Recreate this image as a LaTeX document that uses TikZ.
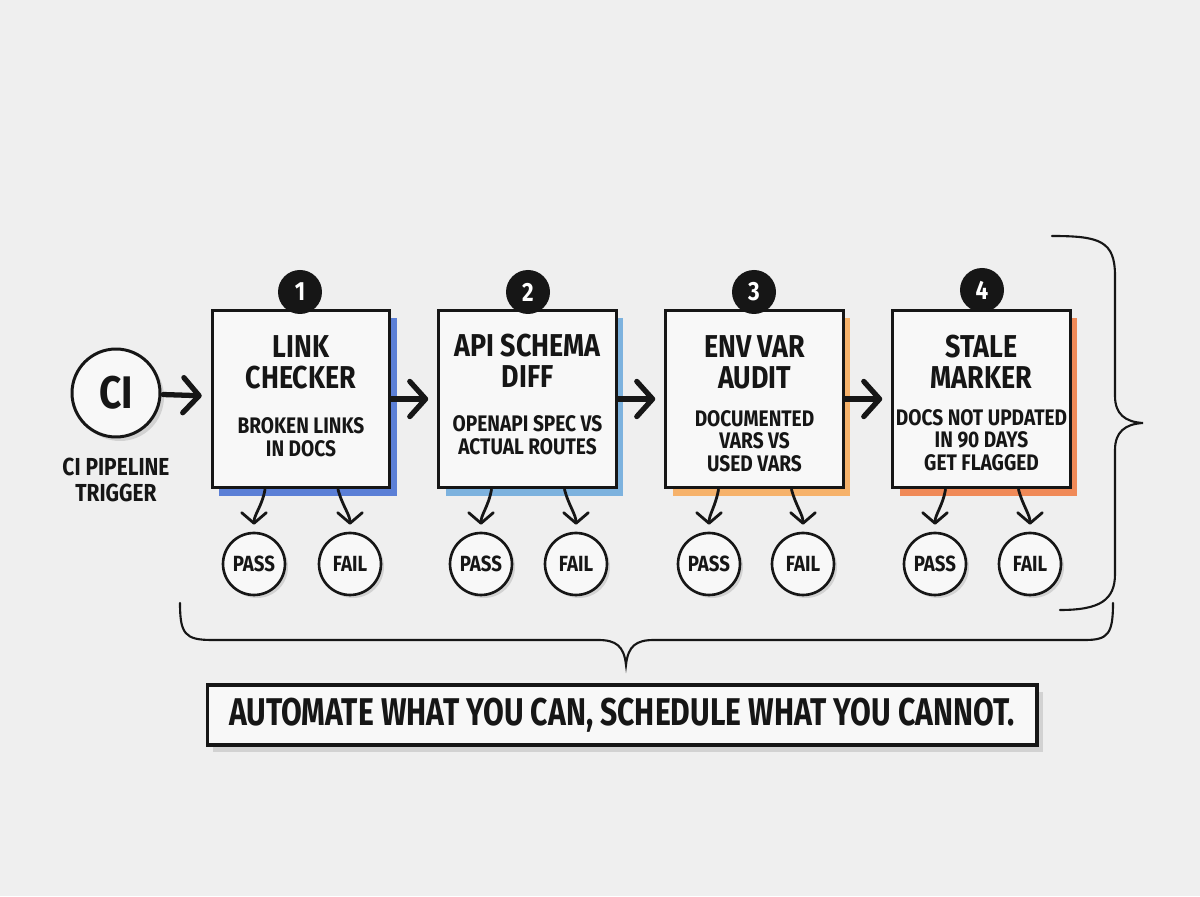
\documentclass[tikz,border=0pt]{standalone}
\usepackage{fontspec}
\setmainfont{Fira Sans}[FakeStretch=0.85]
\newfontfamily\bannerfont{Fira Sans}[FakeStretch=0.78]
\usetikzlibrary{arrows.meta,shadows}
\definecolor{bg}{HTML}{EFEFEF}
\definecolor{paper}{HTML}{F8F8F8}
\definecolor{ink}{HTML}{161616}
\definecolor{cone}{HTML}{5B7FD6}
\definecolor{ctwo}{HTML}{7DB2DE}
\definecolor{cthree}{HTML}{F6B26B}
\definecolor{cfour}{HTML}{F08A58}
\definecolor{shade}{HTML}{D2D2D2}
\tikzset{
  stepbox/.style={draw=ink, line width=1.7pt, fill=paper, minimum width=3.56cm, minimum height=3.56cm, inner sep=0,
    drop shadow={shadow xshift=0.14cm, shadow yshift=-0.16cm, fill=#1, opacity=1}},
  ttl/.style={font=\bfseries\fontsize{18}{17.6}\selectfont, align=center, text=ink},
  dsc/.style={font=\bfseries\fontsize{12.8}{12.8}\selectfont, align=center, text=ink},
  badge/.style={circle, fill=ink, text=white, minimum size=0.88cm, inner sep=0, font=\bfseries\fontsize{15}{15}\selectfont},
  res/.style={circle, draw=ink, line width=1.5pt, fill=paper, minimum size=1.24cm, inner sep=0, text=ink,
    font=\bfseries\fontsize{12.5}{12.5}\selectfont,
    drop shadow={shadow xshift=0.06cm, shadow yshift=-0.06cm, fill=shade, opacity=1}},
  flow/.style={draw=ink, line width=3pt, line cap=round, -{Straight Barb[length=9pt,width=20pt,line width=3pt,round]}},
  branch/.style={draw=ink, line width=1.6pt, line cap=round, -{Straight Barb[length=6pt,width=14pt,line width=1.6pt,round]}, shorten >=4pt},
  brace/.style={draw=ink, line width=1.2pt, line cap=round},
}
\begin{document}
\begin{tikzpicture}[x=0.02cm,y=0.02cm]
\useasboundingbox[fill=bg] (0,0) rectangle (1200,896);

% CI trigger
\node[circle, draw=ink, line width=1.7pt, fill=paper, minimum size=1.76cm, inner sep=0, text=ink,
  font=\bfseries\fontsize{26}{26}\selectfont,
  drop shadow={shadow xshift=0.08cm, shadow yshift=-0.08cm, fill=shade, opacity=1}] (ci) at (116,503) {CI};
\node[font=\bfseries\fontsize{14}{14.7}\selectfont, align=center, text=ink] (cilab) at (116,416) {CI PIPELINE\\TRIGGER};

% boxes
\node[stepbox=cone] (b1) at (301,497) {};
\node[stepbox=ctwo] (b2) at (527.5,497) {};
\node[stepbox=cthree] (b3) at (754.5,497) {};
\node[stepbox=cfour] (b4) at (981.5,497) {};

\node[ttl] (b1t) at (301,534) {LINK\\CHECKER};
\node[dsc] (b1d) at (301,459) {BROKEN LINKS\\IN DOCS};
\node[ttl] (b2t) at (527.5,535) {API SCHEMA\\DIFF};
\node[dsc] (b2d) at (527.5,461) {OPENAPI SPEC VS\\ACTUAL ROUTES};
\node[ttl] (b3t) at (754.5,534) {ENV VAR\\AUDIT};
\node[dsc] (b3d) at (754.5,455) {DOCUMENTED\\VARS VS\\USED VARS};
\node[ttl] (b4t) at (981.5,534) {STALE\\MARKER};
\node[dsc] (b4d) at (981.5,456) {DOCS NOT UPDATED\\IN 90 DAYS\\GET FLAGGED};

% badges
\node[badge] (n1) at (300,604) {1};
\node[badge] (n2) at (528,604) {2};
\node[badge] (n3) at (754,604) {3};
\node[badge] (n4) at (982,606) {4};

% pass / fail
\node[res] (p1) at (254,332) {PASS};
\node[res] (f1) at (350,332) {FAIL};
\node[res] (p2) at (481,332) {PASS};
\node[res] (f2) at (576,332) {FAIL};
\node[res] (p3) at (709,332) {PASS};
\node[res] (f3) at (803,332) {FAIL};
\node[res] (p4) at (935,332) {PASS};
\node[res] (f4) at (1030,332) {FAIL};

% main flow
\draw[flow, shorten <=1pt, shorten >=5pt] (ci) -- (b1);
\draw[flow, shorten >=5pt] (b1) -- (b2);
\draw[flow, shorten >=5pt] (b2) -- (b3);
\draw[flow, shorten >=5pt] (b3) -- (b4);

% branches
\foreach \b/\p/\f in {b1/p1/f1, b2/p2/f2, b3/p3/f3, b4/p4/f4}{
  \draw[branch] ([xshift=-0.72cm]\b.south) to[out=-100,in=90] (\p.north);
  \draw[branch] ([xshift=0.74cm]\b.south) to[out=-75,in=90] (\f.north);
}

% braces
\draw[brace] (180,293) .. controls (180,262) and (185,256) .. (212,256) -- (598,256)
  .. controls (616,256) and (624,250) .. (626,231)
  .. controls (628,250) and (636,256) .. (654,256) -- (1085,256)
  .. controls (1108,256) and (1113,262) .. (1113,293);
\draw[brace] (1052,660) .. controls (1100,660) and (1115,655) .. (1115,620) -- (1115,500)
  .. controls (1115,482) and (1125,474) .. (1143,473)
  .. controls (1125,472) and (1115,464) .. (1115,446) -- (1115,322)
  .. controls (1115,296) and (1100,286) .. (1060,286);

% banner
\node[draw=ink, line width=1.8pt, fill=paper, minimum width=16.6cm, minimum height=1.2cm, inner sep=0, text=ink,
  font=\bannerfont\bfseries\fontsize{22}{22}\selectfont,
  drop shadow={shadow xshift=0.12cm, shadow yshift=-0.14cm, fill=shade, opacity=1}] (banner) at (622,181)
  {AUTOMATE WHAT YOU CAN, SCHEDULE WHAT YOU CANNOT.};
\end{tikzpicture}
\end{document}
